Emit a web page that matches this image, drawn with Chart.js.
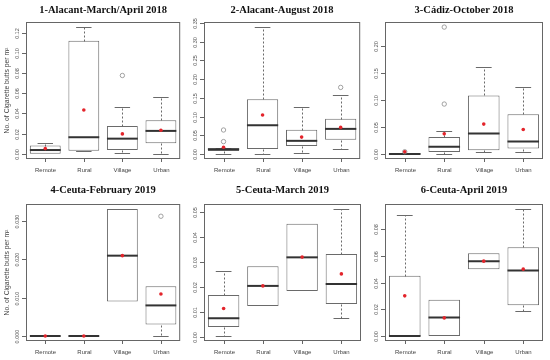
<!DOCTYPE html>
<html>
<head>
<meta charset="utf-8">
<script src="https://cdn.jsdelivr.net/npm/chart.js@4.4.0/dist/chart.umd.min.js"></script>
<style>
html,body{margin:0;padding:0;background:#fff;}
#wrap{position:relative;width:550px;height:360px;overflow:hidden;}
#wrap canvas{position:absolute;}
</style>
</head>
<body>
<div id="wrap"></div>
<script>
const sites=['Remote','Rural','Village','Urban'];
const titles=['1-Alacant-March/April 2018','2-Alacant-August 2018','3-Cádiz-October 2018',
              '4-Ceuta-February 2019','5-Ceuta-March 2019','6-Ceuta-April 2019'];

// one row per panel, one value per site
const whiskLow=[[0,0.0023,0.0007,0],[0,0,0.003,0.0125],[0,0,0.003,0.003],
                [0,0,0.009,0],[0.0005,0.0125,0.0185,0.0077],[0,0,0.050,0.019]];
const q1=[[0,0.003,0.0036,0.0103],[0.008,0.0134,0.021,0.038],[0,0.0037,0.0068,0.0098],
          [0,0,0.009,0.003],[0.0041,0.0125,0.0185,0.0133],[0,0,0.050,0.023]];
const median=[[0.0036,0.0163,0.0149,0.0226],[0.0125,0.077,0.035,0.067],[0,0.013,0.0375,0.0228],
              [0,0,0.021,0.008],[0.0076,0.0205,0.0319,0.0213],[0,0.0138,0.056,0.049]];
const q3=[[0.008,0.112,0.0275,0.0332],[0.015,0.146,0.065,0.094],[0.001,0.031,0.108,0.073],
          [0,0,0.0332,0.013],[0.0169,0.0283,0.0453,0.0332],[0.045,0.027,0.062,0.0665]];
const whiskHigh=[[0.0106,0.126,0.0464,0.0564],[0.017,0.339,0.125,0.158],[0.001,0.042,0.160,0.124],
                 [0,0,0.0332,0.013],[0.0265,0.0283,0.0453,0.0512],[0.0905,0.027,0.062,0.095]];
const means=[[0.005,0.0434,0.0196,0.0232],[0.018,0.104,0.045,0.071],[0.004,0.037,0.055,0.045],
             [0,0,0.021,0.011],[0.0115,0.0205,0.032,0.0253],[0.030,0.0135,0.056,0.050]];
const outliers=[
  [{x:'Village',y:0.0776}],
  [{x:'Remote',y:0.064},{x:'Remote',y:0.033},{x:'Urban',y:0.178}],
  [{x:'Remote',y:0.004},{x:'Rural',y:0.092},{x:'Rural',y:0.234}],
  [{x:'Urban',y:0.0313}],
  [],
  []
];
const yMin=[-0.0053,-0.0136,-0.0094,-0.0013,-0.0015,-0.0038];
const yMax=[0.1307,0.353,0.2434,0.0345,0.0532,0.0988];
const yTicks=[[0,0.02,0.04,0.06,0.08,0.10,0.12],[0,0.05,0.10,0.15,0.20,0.25,0.30,0.35],
              [0,0.05,0.10,0.15,0.20],[0,0.01,0.02,0.03],
              [0,0.01,0.02,0.03,0.04,0.05],[0,0.02,0.04,0.06,0.08]];
const tickDigits=[2,2,2,3,2,2];
const yTitle='No. of Cigarette butts per m²';

// layout
const colX=[0,185,365], colW=[185,180,185];
const rowY=[0,180], rowH=[180,180];
const padCol=[{left:26,right:2},{left:19,right:2},{left:20,right:7}];
const padRow=[{top:22,bottom:21},{top:24,bottom:19}];

const boxPlot={
  id:'boxPlot',
  afterDatasetDraw(chart,args){
    if(args.index!==0) return;
    const p=chart.options.plugins.boxPlot.panel;
    const x=chart.scales.x,y=chart.scales.y,ctx=chart.ctx;
    const bw=(x.getPixelForValue(1)-x.getPixelForValue(0))*0.8;
    sites.forEach((s,i)=>{
      const cx=x.getPixelForValue(i);
      ctx.save();
      ctx.strokeStyle='#6a6a6a';ctx.lineWidth=1;
      const whisk=(from,to)=>{
        const a=Math.round(y.getPixelForValue(from))+0.5,b=Math.round(y.getPixelForValue(to))+0.5;
        ctx.setLineDash([2,2]);
        ctx.beginPath();ctx.moveTo(Math.round(cx)+0.5,a);ctx.lineTo(Math.round(cx)+0.5,b);ctx.stroke();
        ctx.setLineDash([]);
        ctx.beginPath();ctx.moveTo(cx-bw/4,b);ctx.lineTo(cx+bw/4,b);ctx.stroke();
      };
      if(whiskHigh[p][i]>q3[p][i]) whisk(q3[p][i],whiskHigh[p][i]);
      if(whiskLow[p][i]<q1[p][i]) whisk(q1[p][i],whiskLow[p][i]);
      ctx.strokeStyle='#333';ctx.lineWidth=2;
      const m=y.getPixelForValue(median[p][i]);
      ctx.beginPath();ctx.moveTo(cx-bw/2,m);ctx.lineTo(cx+bw/2,m);ctx.stroke();
      ctx.restore();
    });
  },
  afterDraw(chart){
    const p=chart.options.plugins.boxPlot.panel;
    const x=chart.scales.x,y=chart.scales.y,ctx=chart.ctx;
    const a=chart.chartArea;
    ctx.save();
    ctx.strokeStyle='#666';ctx.lineWidth=1;
    ctx.strokeRect(a.left+0.5,a.top+0.5,a.right-a.left-1,a.bottom-a.top-1);
    // y axis
    ctx.fillStyle='#555';
    ctx.font='5.5px "Liberation Sans", Arial, sans-serif';
    ctx.textAlign='center';ctx.textBaseline='middle';
    yTicks[p].forEach(v=>{
      const py=Math.round(y.getPixelForValue(v))+0.5;
      ctx.beginPath();ctx.moveTo(a.left-4,py);ctx.lineTo(a.left,py);ctx.stroke();
      ctx.save();ctx.translate(a.left-9,py);ctx.rotate(-Math.PI/2);
      ctx.fillText(v.toFixed(tickDigits[p]),0,0);ctx.restore();
    });
    // x axis
    ctx.font='6px "Liberation Sans", Arial, sans-serif';
    ctx.fillStyle='#444';
    sites.forEach((s,i)=>{
      const px=Math.round(x.getPixelForValue(i))+0.5;
      ctx.beginPath();ctx.moveTo(px,a.bottom);ctx.lineTo(px,a.bottom+3);ctx.stroke();
      ctx.fillText(s,px,a.bottom+11);
    });
    if(p%3===0){
      ctx.font='6.8px "Liberation Sans", Arial, sans-serif';
      ctx.save();ctx.translate(7,(a.top+a.bottom)/2);ctx.rotate(-Math.PI/2);
      ctx.fillText(yTitle,0,0);ctx.restore();
    }
    ctx.fillStyle='#111';
    ctx.font='bold 10.5px "Liberation Serif", "DejaVu Serif", serif';
    ctx.fillText(titles[p],(a.left+a.right)/2,10);
    ctx.restore();
  }
};

const wrap=document.getElementById('wrap');
titles.forEach((t,p)=>{
  const c=p%3,r=Math.floor(p/3);
  const cv=document.createElement('canvas');
  cv.width=colW[c];cv.height=rowH[r];
  cv.style.left=colX[c]+'px';cv.style.top=rowY[r]+'px';
  wrap.appendChild(cv);
  new Chart(cv,{
    type:'bar',
    data:{
      labels:sites,
      datasets:[
        {type:'bar',data:sites.map((s,i)=>[q1[p][i],q3[p][i]]),backgroundColor:'#fff',
         borderColor:'#6a6a6a',borderWidth:1,borderSkipped:false,
         barPercentage:0.8,categoryPercentage:1,order:3},
        {type:'line',data:outliers[p],showLine:false,pointRadius:2.2,pointBorderWidth:0.8,
         pointBorderColor:'#8c8c8c',pointBackgroundColor:'rgba(0,0,0,0)',order:2},
        {type:'line',data:means[p],showLine:false,pointRadius:1.8,pointBorderWidth:0,
         pointBackgroundColor:'#e3242b',order:1}
      ]
    },
    options:{
      responsive:false,animation:false,devicePixelRatio:1,
      layout:{padding:{left:padCol[c].left,right:padCol[c].right,top:padRow[r].top,bottom:padRow[r].bottom}},
      scales:{
        x:{type:'category',offset:true,display:false},
        y:{type:'linear',min:yMin[p],max:yMax[p],display:false}
      },
      plugins:{legend:{display:false},tooltip:{enabled:false},title:{display:false},boxPlot:{panel:p}}
    },
    plugins:[boxPlot]
  });
});
</script>
</body>
</html>
